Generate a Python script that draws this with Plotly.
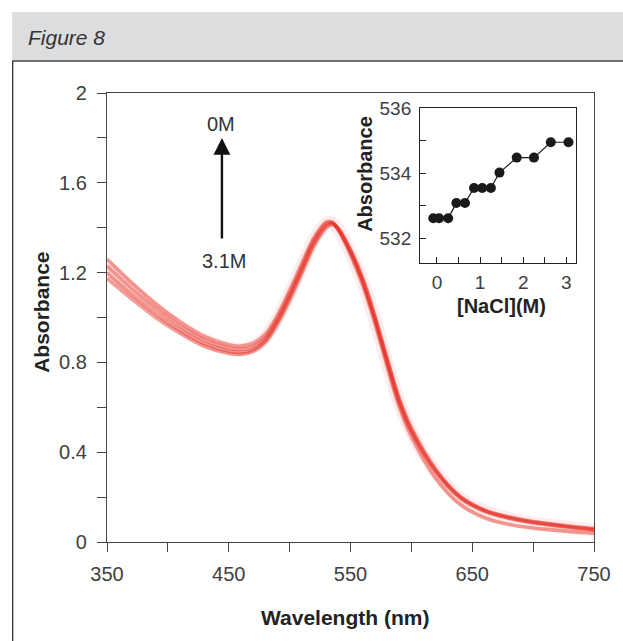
import plotly.graph_objects as go

# ---------------- data ----------------
wavelength = [350, 370, 390, 410, 430, 450, 460, 470, 480, 490, 500, 510, 520, 530, 535,
              540, 550, 560, 570, 580, 590, 600, 620, 640, 660, 680, 700, 725, 750]

abs_0M = [1.26, 1.155, 1.06, 0.98, 0.915, 0.878, 0.872, 0.885, 0.925, 1.01, 1.12, 1.24, 1.355, 1.425, 1.425,
          1.39, 1.28, 1.145, 0.975, 0.785, 0.603, 0.47, 0.285, 0.168, 0.108, 0.078, 0.062, 0.05, 0.04]
abs_1M = [1.23, 1.13, 1.04, 0.962, 0.9, 0.864, 0.858, 0.87, 0.91, 0.995, 1.105, 1.225, 1.345, 1.418, 1.422,
          1.392, 1.29, 1.158, 0.99, 0.80, 0.62, 0.49, 0.312, 0.196, 0.137, 0.106, 0.085, 0.068, 0.053]
abs_2M = [1.20, 1.105, 1.018, 0.944, 0.884, 0.85, 0.845, 0.857, 0.898, 0.982, 1.09, 1.21, 1.33, 1.408, 1.418,
          1.394, 1.297, 1.168, 1.0, 0.812, 0.632, 0.50, 0.318, 0.2, 0.14, 0.109, 0.088, 0.071, 0.056]
abs_3M = [1.175, 1.085, 1.0, 0.93, 0.872, 0.84, 0.836, 0.849, 0.89, 0.972, 1.078, 1.198, 1.32, 1.40, 1.415,
          1.396, 1.302, 1.175, 1.008, 0.82, 0.64, 0.508, 0.324, 0.204, 0.143, 0.112, 0.091, 0.074, 0.059]
spectra = [abs_0M, abs_1M, abs_2M, abs_3M]

nacl = [-0.085, 0.05, 0.26, 0.45, 0.65, 0.86, 1.05, 1.25, 1.45, 1.85, 2.25, 2.64, 3.05]
peak = [532.62, 532.62, 532.62, 533.09, 533.09, 533.55, 533.55, 533.55, 534.02, 534.48, 534.48, 534.95, 534.95]

main_y_ticks = [0, 0.2, 0.4, 0.6, 0.8, 1.0, 1.2, 1.4, 1.6, 1.8, 2.0]
main_y_text = ["0", "", "0.4", "", "0.8", "", "1.2", "", "1.6", "", "2"]
main_x_ticks = [350, 400, 450, 500, 550, 600, 650, 700, 750]
main_x_text = ["350", "", "450", "", "550", "", "650", "", "750"]
inset_x_ticks = [0, 0.5, 1, 1.5, 2, 2.5, 3]
inset_x_text = ["0", "", "1", "", "2", "", "3"]
inset_y_ticks = [532, 533, 534, 535, 536]
inset_y_text = ["532", "", "534", "", "536"]

# ---------------- figure ----------------
L, R, T, B = 107, 23, 93, 99
W, H = 623, 641
pw, ph = W - L - R, H - T - B


def px(x):
    return (x - L) / pw


def py(y):
    return (H - B - y) / ph


fig = go.Figure()
# soft halo behind the bundle of spectra
fig.add_trace(go.Scatter(x=wavelength, y=abs_1M, mode="lines", line_shape="spline",
                         line=dict(color="rgba(235,70,55,0.10)", width=13),
                         showlegend=False, hoverinfo="skip"))
for s in spectra:
    fig.add_trace(go.Scatter(x=wavelength, y=s, mode="lines", line_shape="spline",
                             line=dict(color="rgba(228,40,28,0.45)", width=3.8),
                             showlegend=False, hoverinfo="skip"))

fig.add_trace(go.Scatter(x=nacl, y=peak, mode="lines+markers", xaxis="x2", yaxis="y2",
                         line=dict(color="#1a1a1a", width=1.2),
                         marker=dict(color="#1a1a1a", size=10),
                         showlegend=False))

axis_col = "#444444"
FAM = "Liberation Sans, Arial, sans-serif"
tick_font = dict(family=FAM, size=20, color="#404040")
inset_tick_font = dict(family=FAM, size=19, color="#404040")

fig.update_layout(
    width=W, height=H,
    margin=dict(l=L, r=R, t=T, b=B),
    paper_bgcolor="white", plot_bgcolor="white",
    xaxis=dict(range=[350, 750], tickvals=main_x_ticks, ticktext=main_x_text,
               ticks="outside", ticklen=9, tickcolor=axis_col, showgrid=False, zeroline=False,
               showline=True, linecolor=axis_col, linewidth=1.3, mirror=True,
               tickfont=tick_font, ticklabelstandoff=5),
    yaxis=dict(range=[0, 2], tickvals=main_y_ticks, ticktext=main_y_text,
               ticks="outside", ticklen=9, tickcolor=axis_col, showgrid=False, zeroline=False,
               showline=True, linecolor=axis_col, linewidth=1.3, mirror=True,
               tickfont=tick_font, ticklabelstandoff=6),
    xaxis2=dict(domain=[px(424), px(582)], anchor="y2", range=[-0.39, 3.23],
                tickvals=inset_x_ticks, ticktext=inset_x_text,
                ticks="inside", ticklen=6, tickcolor="#222", showgrid=False, zeroline=False,
                showline=True, linecolor="#222", linewidth=1.2, mirror=True,
                tickfont=inset_tick_font, ticklabelstandoff=2),
    yaxis2=dict(domain=[py(263), py(108)], anchor="x2", range=[531.25, 536],
                tickvals=inset_y_ticks, ticktext=inset_y_text,
                ticks="inside", ticklen=6, tickcolor="#222", showgrid=False, zeroline=False,
                showline=True, linecolor="#222", linewidth=1.2, mirror=True,
                tickfont=inset_tick_font, ticklabelstandoff=4),
)

title_font = dict(family=FAM, size=21, color="#222")
inset_title_font = dict(family=FAM, size=20, color="#222")

shapes = [
    dict(type="rect", xref="paper", yref="paper", x0=px(11), x1=px(640), y0=py(60), y1=py(12),
         fillcolor="#dcdddf", line=dict(width=0), layer="below"),
    dict(type="line", xref="paper", yref="paper", x0=px(11), x1=px(640), y0=py(61), y1=py(61),
         line=dict(color="#6e6e6e", width=2)),
    dict(type="line", xref="paper", yref="paper", x0=px(11.5), x1=px(11.5), y0=py(61), y1=py(660),
         line=dict(color="#333", width=1.3)),
]

annotations = [
    dict(xref="paper", yref="paper", x=px(25), y=py(37), xanchor="left", yanchor="middle",
         text="<i>Figure 8</i>", showarrow=False,
         font=dict(family=FAM, size=21, color="#333")),
    dict(xref="paper", yref="paper", x=px(348), y=py(617), xanchor="center", yanchor="middle",
         text="<b>Wavelength (nm)</b>", showarrow=False, font=title_font),
    dict(xref="paper", yref="paper", x=px(40), y=py(312), xanchor="center", yanchor="middle",
         text="<b>Absorbance</b>", textangle=-90, showarrow=False, font=title_font),
    dict(xref="paper", yref="paper", x=px(506), y=py(306), xanchor="center", yanchor="middle",
         text="<b>[NaCl](M)</b>", showarrow=False, font=inset_title_font),
    dict(xref="paper", yref="paper", x=px(368), y=py(174), xanchor="center", yanchor="middle",
         text="<b>Absorbance</b>", textangle=-90, showarrow=False, font=inset_title_font),
    # arrow 3.1M -> 0M
    dict(x=444.4, y=1.80, ax=444.4, ay=1.345, xref="x", yref="y", axref="x", ayref="y",
         text="", showarrow=True, arrowhead=2, arrowsize=1.4, arrowwidth=2.4, arrowcolor="#111"),
    dict(x=444, y=1.86, xref="x", yref="y", text="0M", showarrow=False,
         font=dict(family=FAM, size=20, color="#333")),
    dict(x=446, y=1.25, xref="x", yref="y", text="3.1M", showarrow=False,
         font=dict(family=FAM, size=20, color="#333")),
]

fig.update_layout(shapes=shapes, annotations=annotations)
fig.write_html("out.html", config={"displayModeBar": False},
               post_script="document.body.style.margin='0';document.body.style.overflow='hidden';")
